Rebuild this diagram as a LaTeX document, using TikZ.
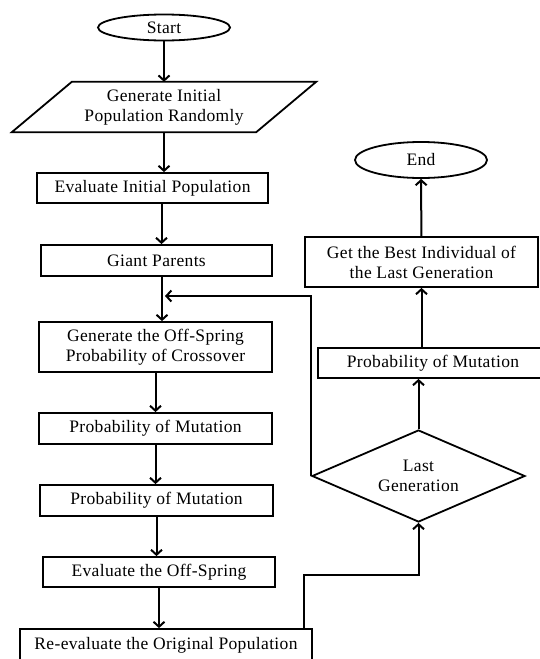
\documentclass[tikz,border=0pt]{standalone}
\usepackage{fontspec}
\setmainfont{Liberation Serif}[LetterSpace=2]
\usetikzlibrary{arrows.meta,shapes.geometric,positioning}

\tikzset{
  txt/.style={inner sep=0pt, align=center, font=\fontsize{17.5}{20}\selectfont},
  box/.style={txt, draw, rectangle, line width=1.8pt},
  oval/.style={txt, draw, ellipse, line width=1.8pt},
  decide/.style={txt, draw, diamond, aspect=2.3, line width=1.8pt},
  arr/.style={-{Straight Barb[length=5pt,width=11pt]}, line width=2pt}
}

\begin{document}
\begin{tikzpicture}[x=1pt,y=-1pt]
  \useasboundingbox (0,0) rectangle (539,659);

  % left column
  \node[oval, minimum width=132pt, minimum height=26pt] (start) at (164,27.5) {Start};
  \node[txt, minimum width=244pt, minimum height=50pt] (gen) at (164,107) {Generate Initial\\Population Randomly};
  \draw[line width=1.8pt] ([xshift=-30pt]gen.south west) -- ([xshift=-30pt]gen.south east)
      -- ([xshift=30pt]gen.north east) -- ([xshift=30pt]gen.north west) -- cycle;
  \node[box, minimum width=231pt, minimum height=30pt] (evali) at (152.5,188) {Evaluate Initial Population};
  \node[box, minimum width=231pt, minimum height=31pt] (giant) at (156.5,260.5) {Giant Parents};
  \node[box, minimum width=233pt, minimum height=50pt] (offspr) at (155.5,347) {Generate the Off-Spring\\Probability of Crossover};
  \node[box, minimum width=233pt, minimum height=31pt] (mut1) at (155.5,428.5) {Probability of Mutation};
  \node[box, minimum width=233pt, minimum height=31pt] (mut2) at (156.5,500.5) {Probability of Mutation};
  \node[box, minimum width=232pt, minimum height=30pt] (evalo) at (159,572) {Evaluate the Off-Spring};
  \node[box, minimum width=292pt, minimum height=32pt] (reeval) at (166,645) {Re-evaluate the Original Population};

  % right column
  \node[oval, minimum width=132pt, minimum height=36pt] (endn) at (421,160) {End};
  \node[box, minimum width=233pt, minimum height=50pt] (best) at (421.5,262) {Get the Best Individual of\\the Last Generation};
  \node[box, minimum width=230pt, minimum height=30pt] (mut3) at (433,363) {Probability of Mutation};
  \node[decide, minimum width=213pt, minimum height=92pt] (last) at (418.5,476) {Last\\Generation};

  \coordinate (merge) at (165,296);

  \draw[arr] (start) -- (gen);
  \draw[arr] (gen.south) -- (gen.south |- evali.north);
  \draw[arr] ([xshift=9pt]evali.south) -- ([xshift=9pt]evali.south |- giant.north);
  \draw[arr] ([xshift=5.5pt]giant.south) -- ([xshift=5.5pt]giant.south |- offspr.north);
  \draw[arr] (offspr.south) -- (offspr.south |- mut1.north);
  \draw[arr] (mut1.south) -- (mut1.south |- mut2.north);
  \draw[arr] (mut2.south) -- (mut2.south |- evalo.north);
  \draw[arr] (evalo.south) -- (evalo.south |- reeval.north);
  \draw[arr] ([xshift=-9pt]reeval.north east) -- ++(0,-53) -| (last.south);
  \draw[arr] (last.north) -- (last.north |- mut3.south);
  \draw[arr] (mut3.north -| best.south) -- (best.south);
  \draw[arr] (best) -- (endn);
  \draw[arr] (last.west) |- (merge);
\end{tikzpicture}
\end{document}
